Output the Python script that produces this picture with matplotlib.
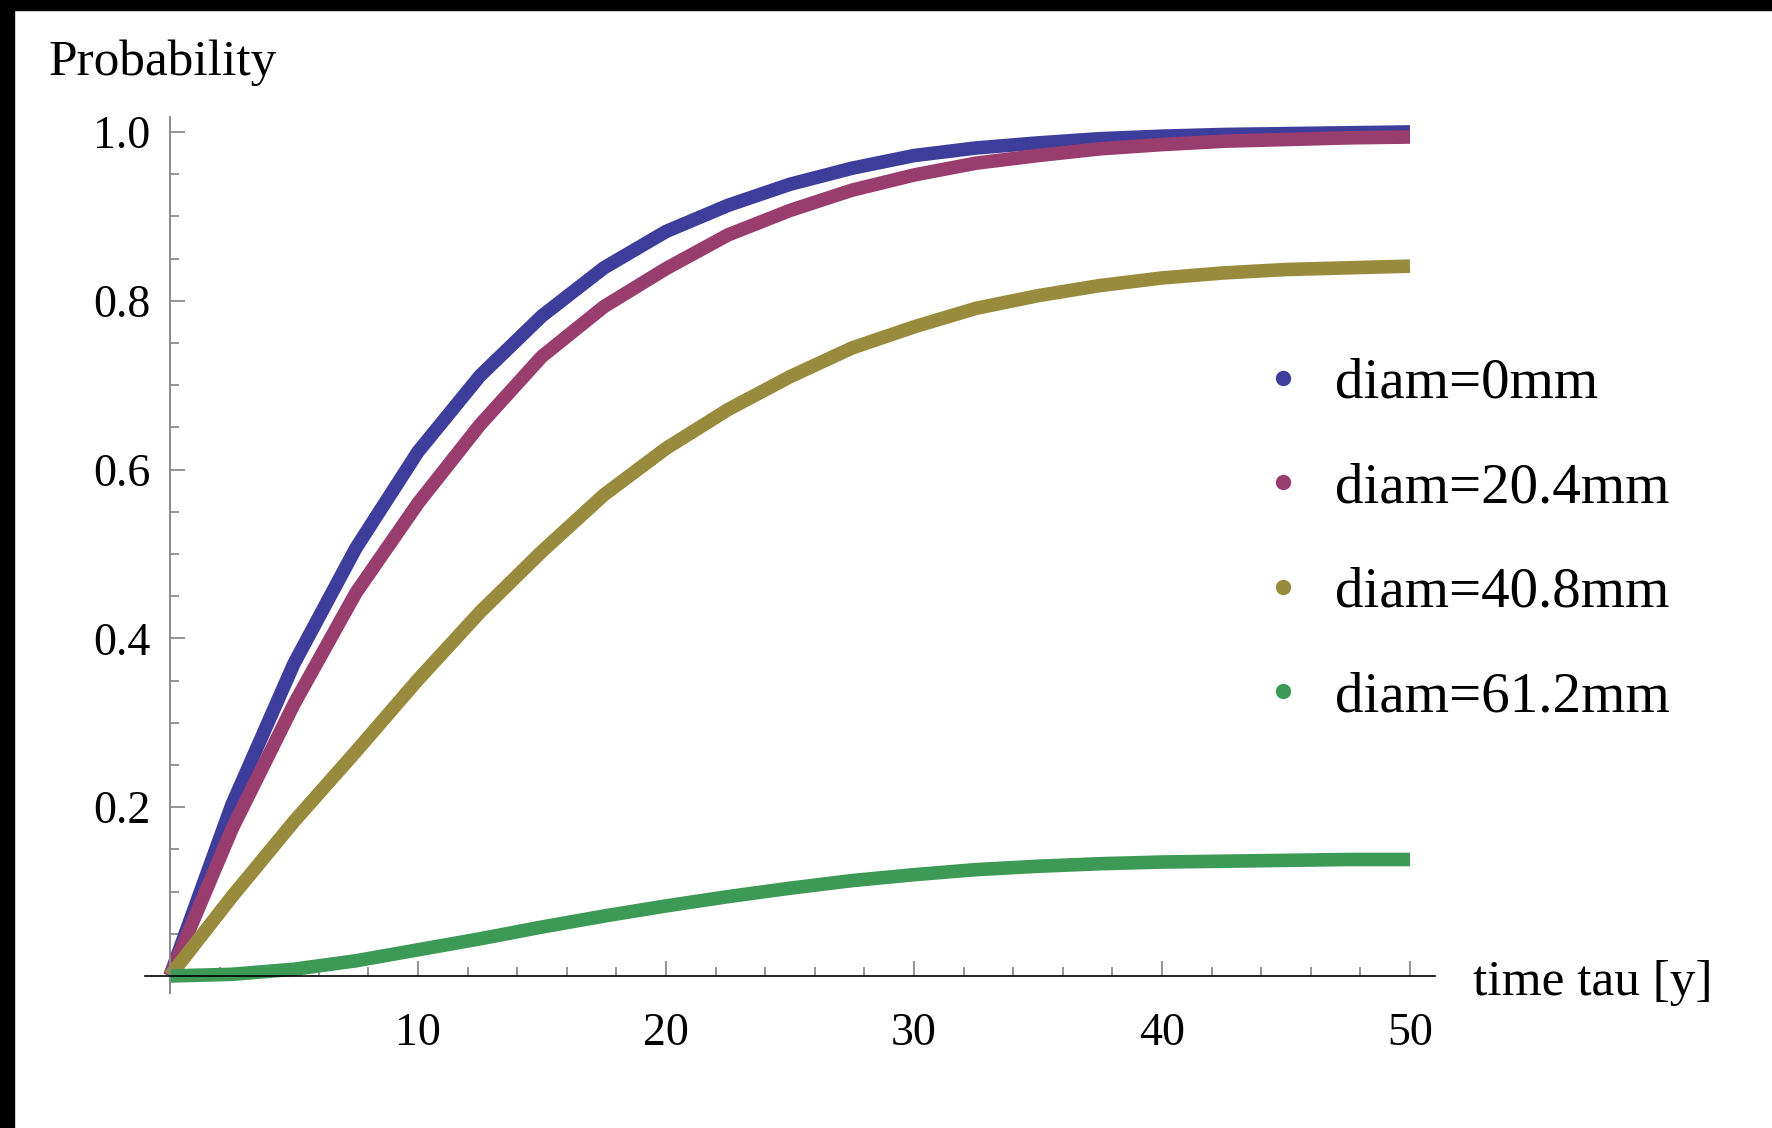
import numpy as np
import matplotlib
matplotlib.use("Agg")
import matplotlib.pyplot as plt
from matplotlib.lines import Line2D
from matplotlib.patches import Rectangle
from matplotlib.ticker import FixedLocator

plt.rcParams['font.family'] = ['Liberation Serif', 'DejaVu Serif']

# time grid (years) and curves
tau = [0, 2.5, 5, 7.5, 10, 12.5, 15, 17.5, 20, 22.5, 25,
       27.5, 30, 32.5, 35, 37.5, 40, 42.5, 45, 47.5, 50]
p_0mm = [0, 0.203, 0.370, 0.507, 0.621, 0.711, 0.782, 0.839, 0.882, 0.913, 0.938,
         0.957, 0.972, 0.981, 0.987, 0.992, 0.995, 0.997, 0.998, 0.999, 1.000]
p_20mm = [0, 0.174, 0.322, 0.454, 0.560, 0.653, 0.734, 0.793, 0.838, 0.878, 0.907,
          0.931, 0.949, 0.963, 0.972, 0.980, 0.985, 0.989, 0.991, 0.993, 0.994]
p_40mm = [0, 0.094, 0.183, 0.266, 0.351, 0.431, 0.503, 0.570, 0.625, 0.671, 0.710,
          0.744, 0.769, 0.791, 0.806, 0.818, 0.827, 0.833, 0.837, 0.839, 0.841]
p_61mm = [0, 0.002, 0.008, 0.018, 0.031, 0.044, 0.058, 0.071, 0.083, 0.094, 0.104,
          0.113, 0.120, 0.126, 0.130, 0.133, 0.135, 0.136, 0.137, 0.138, 0.138]

labels = ['diam=0mm', 'diam=20.4mm', 'diam=40.8mm', 'diam=61.2mm']
colors = ['#3d3d9c', '#993d6f', '#998b3d', '#3d9956']

x_major = [10, 20, 30, 40, 50]
x_minor = [2, 4, 6, 8, 12, 14, 16, 18, 22, 24, 26, 28, 32, 34, 36, 38, 42, 44, 46, 48]
y_major = [0.2, 0.4, 0.6, 0.8, 1.0]
y_minor = [0.05, 0.1, 0.15, 0.25, 0.3, 0.35, 0.45, 0.5, 0.55, 0.65, 0.7, 0.75,
           0.85, 0.9, 0.95]

fig = plt.figure(figsize=(17.72, 11.28), dpi=100)
ax = fig.add_axes([0.0819, 0.1198, 0.7278, 0.7767])

for ys, c in zip([p_0mm, p_20mm, p_40mm, p_61mm], colors):
    ax.plot(tau, ys, color=c, linewidth=9.8, solid_capstyle='butt',
            solid_joinstyle='miter', clip_on=False)

ax.set_xlim(-1.0, 51.0)
ax.set_ylim(-0.02, 1.018)

# Mathematica-style crossing axes
ax.spines['left'].set_position(('data', 0))
ax.spines['bottom'].set_position(('data', 0))
ax.spines['right'].set_visible(False)
ax.spines['top'].set_visible(False)
ax.spines['left'].set_color('#8a8a8a')
ax.spines['left'].set_linewidth(1.4)
ax.spines['bottom'].set_color('black')
ax.spines['bottom'].set_linewidth(1.2)

ax.xaxis.set_major_locator(FixedLocator(x_major))
ax.xaxis.set_minor_locator(FixedLocator(x_minor))
ax.yaxis.set_major_locator(FixedLocator(y_major))
ax.yaxis.set_minor_locator(FixedLocator(y_minor))
ax.set_xticklabels([str(v) for v in x_major])
ax.set_yticklabels(['%.1f' % v for v in y_major])

ax.tick_params(which='both', direction='in', color='#777777', width=1.1)
ax.tick_params(which='major', length=11)
ax.tick_params(which='minor', length=6.5)
ax.tick_params(axis='x', which='major', labelsize=33, pad=26)
ax.tick_params(axis='y', which='major', labelsize=33, pad=14)

fig.text(49 / 1772, 1 - 75 / 1128, 'Probability', fontsize=37,
         ha='left', va='baseline')
fig.text(1473 / 1772, 1 - 995 / 1128, 'time tau [y]', fontsize=37,
         ha='left', va='baseline')

handles = [Line2D([], [], linestyle='', marker='o', markersize=10,
                  color=c) for c in colors]
ax.legend(handles, labels, loc='upper left',
          bbox_to_anchor=(1255 / 1772, 1 - 358 / 1128),
          bbox_transform=fig.transFigure, frameon=False, fontsize=41,
          handlelength=1.0, handletextpad=0.4, labelspacing=0.92,
          borderpad=0, borderaxespad=0)

# black frame strips on top and left edges
fig.add_artist(Rectangle((0, 1 - 10 / 1128), 1, 10 / 1128,
                         transform=fig.transFigure, color='black'))
fig.add_artist(Rectangle((0, 0), 14 / 1772, 1,
                         transform=fig.transFigure, color='black'))

fig.savefig('out.png', dpi=100, facecolor='white')
